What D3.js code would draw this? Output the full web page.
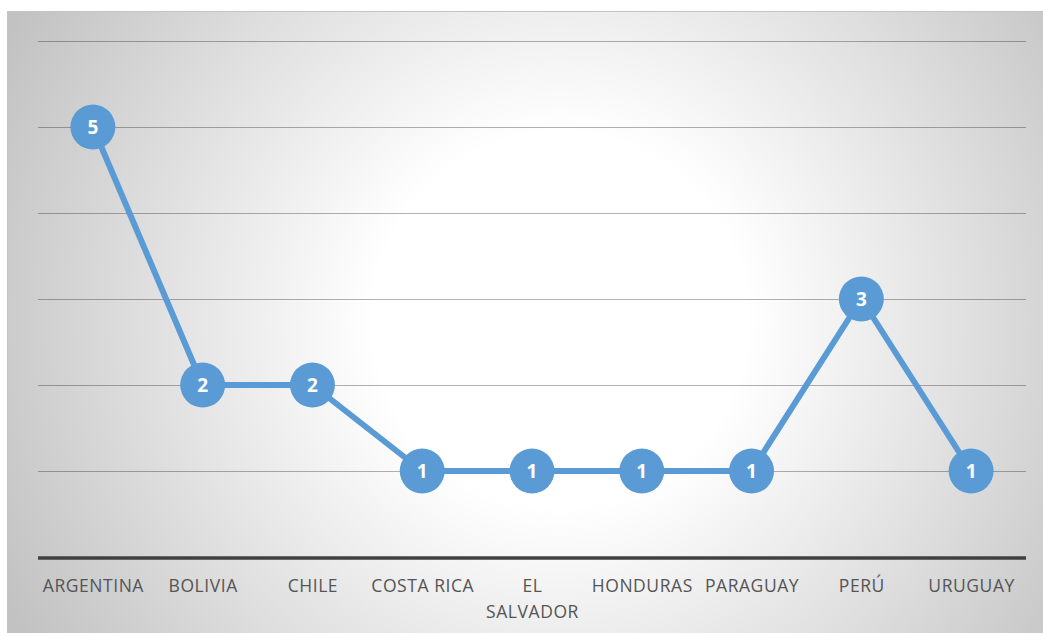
<!DOCTYPE html>
<html>
<head>
<meta charset="utf-8">
<script src="https://cdn.jsdelivr.net/npm/d3@7"></script>
<style>
html,body{margin:0;padding:0;background:#fff;}
svg{display:block;}
</style>
</head>
<body>
<svg id="chart" width="1043" height="633"></svg>
<script>
const categories = ["ARGENTINA","BOLIVIA","CHILE","COSTA RICA","EL SALVADOR","HONDURAS","PARAGUAY","PERÚ","URUGUAY"];
const values = [5,2,2,1,1,1,1,3,1];
const yTicks = [1,2,3,4,5,6];

(function(){
const W = 1043, H = 633;
const svg = d3.select("#chart");
const defs = svg.append("defs");
const grad = defs.append("radialGradient").attr("id","bg")
  .attr("gradientUnits","userSpaceOnUse")
  .attr("cx",560).attr("cy",320).attr("r",620);
grad.append("stop").attr("offset","0").attr("stop-color","#ffffff");
grad.append("stop").attr("offset","0.3").attr("stop-color","#ffffff");
grad.append("stop").attr("offset","1").attr("stop-color","#c2c2c2");

svg.append("rect").attr("x",7.5).attr("y",11.5).attr("width",W-7).attr("height",H-11)
  .attr("fill","url(#bg)").attr("stroke","#c4c4c4").attr("stroke-width",1);

const mLeft = 38, mRight = 1026, mTop = 41, mBottom = 557;
const x = d3.scalePoint().domain(categories).range([mLeft,mRight]).padding(0.5);
const y = d3.scaleLinear().domain([0,6]).range([mBottom, mTop]);

// gridlines
svg.append("g").selectAll("line").data(yTicks).join("line")
  .attr("x1",mLeft).attr("x2",mRight)
  .attr("y1",d=>Math.round(y(d))+0.5).attr("y2",d=>Math.round(y(d))+0.5)
  .attr("stroke","rgba(0,0,0,0.3)").attr("stroke-width",1);

// baseline axis
const xAxis = d3.axisBottom(x).tickSize(0).tickPadding(0);
const ax = svg.append("g").attr("transform",`translate(0,${y(0)+1})`).call(xAxis);
ax.select(".domain").attr("stroke","#404040").attr("stroke-width",3.3)
  .attr("d",`M${mLeft},0H${mRight}`);
ax.selectAll(".tick text")
  .attr("fill","#555555").attr("font-family","'Open Sans', 'Noto Sans', sans-serif")
  .attr("font-size","17.5px").attr("letter-spacing","0.55px").attr("dy",null).attr("y",34)
  .each(function(){
    const t = d3.select(this);
    const txt = t.text();
    if (this.getComputedTextLength() > 112 && txt.includes(" ")) {
      const words = txt.split(" ");
      t.text(null);
      words.forEach((w,i)=>{
        t.append("tspan").attr("x",0).attr("y",34 + i*26).text(w);
      });
    }
  });

// line
const line = d3.line().x((d,i)=>x(categories[i])).y(d=>y(d));
svg.append("path").datum(values).attr("d",line)
  .attr("fill","none").attr("stroke","#5B9BD5").attr("stroke-width",6)
  .attr("stroke-linejoin","round");

// markers
const m = svg.append("g").selectAll("g").data(values).join("g")
  .attr("transform",(d,i)=>`translate(${x(categories[i])},${y(d)})`);
m.append("circle").attr("r",22.5).attr("fill","#5B9BD5");
m.append("text").text(d=>d).attr("text-anchor","middle").attr("dy","0.36em")
  .attr("fill","#ffffff").attr("font-weight","bold")
  .attr("font-family","'Open Sans', 'Noto Sans', sans-serif").attr("font-size","19px");
})();
</script>
</body>
</html>
